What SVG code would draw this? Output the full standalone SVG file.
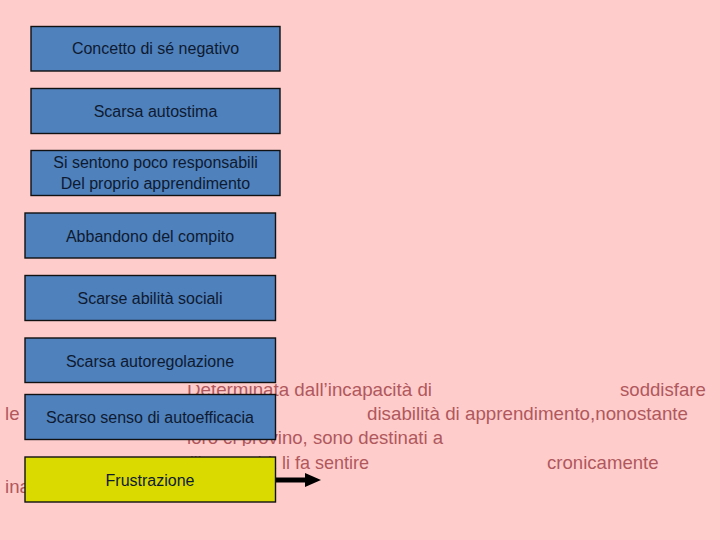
<svg xmlns="http://www.w3.org/2000/svg" width="720" height="540" viewBox="0 0 720 540">
<style>
.box{fill:#4F81BD;stroke:#111;stroke-width:1.4}
.yel{fill:#DADA00;stroke:#111;stroke-width:1.4}
.lbl{font-family:"Liberation Sans",Arial,sans-serif;font-size:16px;fill:#0E1A30;text-anchor:middle}
.par{font-family:"Liberation Sans",Arial,sans-serif;font-size:18.6px;fill:#B0585C}
.bg{fill:#FFCCCC}
</style>
<rect width="720" height="540" class="bg"/>
<g id="paragraph">
<text class="par" x="187" y="396" textLength="245" lengthAdjust="spacingAndGlyphs">Determinata dall’incapacità di</text>
<text class="par" x="620" y="396">soddisfare</text>
<text class="par" x="5" y="420">le</text>
<text class="par" x="367" y="420" textLength="321" lengthAdjust="spacingAndGlyphs">disabilità di apprendimento,nonostante</text>
<text class="par" x="187" y="444" textLength="256" lengthAdjust="spacingAndGlyphs">loro ci provino, sono destinati a</text>
<text class="par" x="190" y="469" textLength="86" lengthAdjust="spacingAndGlyphs">l’incapacità</text>
<text class="par" x="282" y="469" textLength="87" lengthAdjust="spacingAndGlyphs">li fa sentire</text>
<text class="par" x="547" y="469">cronicamente</text>
<text class="par" x="5" y="493">inadeguati</text>
<rect class="bg" x="180" y="380" width="78" height="5"/>
<rect class="bg" x="180" y="436" width="78" height="4"/>
<rect class="bg" x="180" y="446" width="96" height="10"/>
</g>
<g id="n1"><rect class="box" x="31" y="26.5" width="249" height="44.5"/><text class="lbl" x="155.5" y="54">Concetto di sé negativo</text></g>
<g id="n2"><rect class="box" x="31" y="88.5" width="249" height="45"/><text class="lbl" x="155.5" y="116.5">Scarsa autostima</text></g>
<g id="n3"><rect class="box" x="31" y="150.5" width="249" height="45"/><text class="lbl" x="155.5" y="167.5">Si sentono poco responsabili</text><text class="lbl" x="155.5" y="189">Del proprio apprendimento</text></g>
<g id="n4"><rect class="box" x="25" y="213" width="250.5" height="45"/><text class="lbl" x="150" y="242">Abbandono del compito</text></g>
<g id="n5"><rect class="box" x="25" y="275.5" width="250.5" height="45"/><text class="lbl" x="150" y="303.5">Scarse abilità sociali</text></g>
<g id="n6"><rect class="box" x="25" y="338" width="250.5" height="44.5"/><text class="lbl" x="150" y="366.5">Scarsa autoregolazione</text></g>
<g id="n7"><rect class="box" x="25" y="394.5" width="250.5" height="45"/><text class="lbl" x="150" y="423">Scarso senso di autoefficacia</text></g>
<g id="n8"><rect class="yel" x="25" y="457" width="250.5" height="45"/><text class="lbl" x="150" y="486">Frustrazione</text></g>
<g id="connectors">
<line x1="276" y1="480" x2="307" y2="480" stroke="#000" stroke-width="5"/>
<polygon points="305,473 321,480 305,487" fill="#000"/>
</g>
</svg>
